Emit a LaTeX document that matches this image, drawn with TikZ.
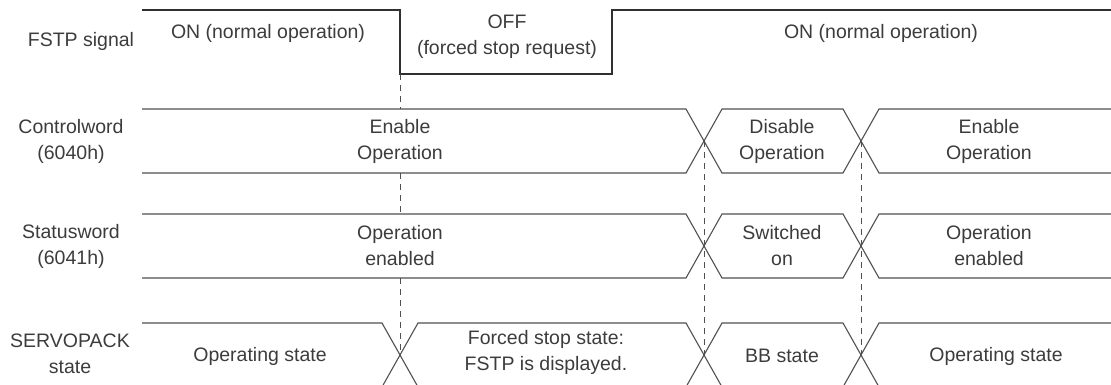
\documentclass[tikz,border=0pt]{standalone}
\usepackage{fontspec}
\setmainfont{Liberation Sans}
\begin{document}
\begin{tikzpicture}[x=1pt,y=-1pt,
  lbl/.style={inner sep=0pt,align=center,text=txtgray,font=\fontsize{19.5}{26}\selectfont},
  rowline/.style={draw=linegray,line width=1.1pt,line join=miter},
  sigline/.style={draw=siggray,line width=2.2pt,line join=miter},
  guide/.style={draw=linegray,line width=0.9pt,dash pattern=on 6pt off 5pt}]
\definecolor{txtgray}{HTML}{3C3C3C}
\definecolor{linegray}{HTML}{505050}
\definecolor{siggray}{HTML}{303030}
\useasboundingbox (0,0) rectangle (1111,385);
\clip (0,0) rectangle (1111,385);

% coordinates of transitions
\coordinate (s1t) at (142,10);
\coordinate (s1d) at (400,10);
\coordinate (s2d) at (400,74);
\coordinate (s2u) at (612,74);
\coordinate (s3u) at (612,10);
\coordinate (s3e) at (1112,10);

% FSTP signal
\draw[sigline] (s1t) -- (s1d) -- (s2d) -- (s2u) -- (s3u) -- (s3e);

% Controlword row: top 109, bottom 173
\draw[rowline] (142,109) -- (686,109) -- (722,173) -- (843,173) -- (879,109) -- (1112,109);
\draw[rowline] (142,173) -- (686,173) -- (722,109) -- (843,109) -- (879,173) -- (1112,173);

% Statusword row: top 214, bottom 278
\draw[rowline] (142,214) -- (686,214) -- (722,278) -- (843,278) -- (879,214) -- (1112,214);
\draw[rowline] (142,278) -- (686,278) -- (722,214) -- (843,214) -- (879,278) -- (1112,278);

% SERVOPACK row: top 323, bottom below edge
\draw[rowline] (142,323) -- (382,323) -- (418,387);
\draw[rowline] (382,387) -- (418,323) -- (686,323) -- (722,387);
\draw[rowline] (686,387) -- (722,323) -- (843,323) -- (879,387);
\draw[rowline] (843,387) -- (879,323) -- (1112,323);

% guide lines
\coordinate (g1a) at (400,109);
\coordinate (g1b) at (400,173);
\coordinate (g1c) at (400,214);
\coordinate (g1d) at (400,278);
\coordinate (g1e) at (400,354);
\coordinate (g2t) at (704,141);
\coordinate (g2b) at (704,354);
\coordinate (g3t) at (861,141);
\coordinate (g3b) at (861,354);
\draw[guide] (s2d) -- (g1a);
\draw[guide] (g1b) -- (g1c);
\draw[guide] (g1d) -- (g1e);
\draw[guide] (g2t) -- (g2b);
\draw[guide] (g3t) -- (g3b);

% left labels
\node[lbl] (lfstp) at (81,41) {FSTP signal};
\node[lbl] (lcw) at (71,141) {Controlword\\(6040h)};
\node[lbl] (lsw) at (71,246) {Statusword\\(6041h)};
\node[lbl] (lsp) at (70,354) {SERVOPACK\\state};

% FSTP texts
\node[lbl] (on1) at (268,33) {ON (normal operation)};
\node[lbl] (off) at (507,37) {OFF\\(forced stop request)};
\node[lbl] (on2) at (881,33) {ON (normal operation)};

% Controlword texts
\node[lbl] (cw1) at (400,141) {Enable\\Operation};
\node[lbl] (cw2) at (782,141) {Disable\\Operation};
\node[lbl] (cw3) at (989,141) {Enable\\Operation};

% Statusword texts
\node[lbl] (sw1) at (400,246) {Operation\\enabled};
\node[lbl] (sw2) at (782,246) {Switched\\on};
\node[lbl] (sw3) at (989,246) {Operation\\enabled};

% SERVOPACK texts
\node[lbl] (sp1) at (260,356) {Operating state};
\node[lbl] (sp2) at (546,352) {Forced stop state:\\FSTP is displayed.};
\node[lbl] (sp3) at (782,356) {BB state};
\node[lbl] (sp4) at (996,356) {Operating state};
\end{tikzpicture}
\end{document}
